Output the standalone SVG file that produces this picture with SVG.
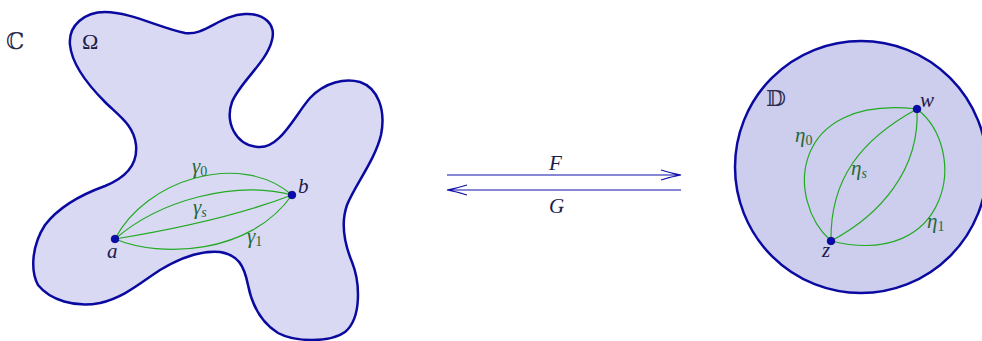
<svg xmlns="http://www.w3.org/2000/svg" width="982" height="341" viewBox="0 0 982 341">
<style>
.region{stroke:#0a0aa0;stroke-width:2.5;}
.curve{fill:none;stroke:#22aa22;stroke-width:1.2;}
.arrow{fill:none;stroke:#1010aa;stroke-width:1.2;}
.dot{fill:#0a0ab0;stroke:#000080;stroke-width:0.8;}
.lbl{font-family:"Liberation Serif","DejaVu Serif",serif;font-style:italic;font-size:21px;fill:#1c1c4a;}
.glbl{font-family:"Liberation Serif","DejaVu Serif",serif;font-style:italic;font-size:21px;fill:#1f6a3a;}
.sub{font-style:normal;font-size:14px;}
.subi{font-size:14px;}
.bb{font-family:"DejaVu Serif","DejaVu Sans",serif;font-size:23px;fill:#2a2a4a;}
</style>
<g id="omega">
<path class="region" fill="#d9d9f3" d="M70,45 C68,25 85,12 105,12 C130,12 160,28 185,33 C205,36 220,15 245,14 C265,13 276,25 272,40 C267,62 240,82 232,102 C225,122 235,145 258,147 C280,149 295,115 310,98 C325,82 345,78 360,82 C378,88 386,110 381,135 C375,160 355,185 347,205 C340,225 345,245 352,262 C360,282 362,318 345,332 C330,343 295,342 278,333 C260,322 252,305 248,285 C244,265 238,255 220,252 C200,250 180,258 160,270 C140,283 125,297 100,303 C75,308 50,300 38,285 C30,270 32,245 45,225 C58,208 80,195 105,186 C125,178 138,165 136,145 C134,125 118,115 105,102 C88,85 72,65 70,45 Z"/>
<text class="lbl" x="82" y="49" style="font-style:normal;font-size:22px">Ω</text>
</g>
<g id="plane-label"><text class="bb" x="6" y="49">ℂ</text></g>
<g id="disc">
<circle class="region" fill="#cdcdee" cx="861" cy="167" r="126"/>
<text class="bb" x="766" y="106">𝔻</text>
</g>
<g id="connectors">
<path class="curve" d="M115,239 C145,180 240,150 292,195"/>
<path class="curve" d="M115,239 C160,200 235,180 292,195"/>
<path class="curve" d="M115,239 C170,230 240,215 292,195"/>
<path class="curve" d="M115,239 C160,258 250,255 292,195"/>
<path class="curve" d="M831,241 C785,200 790,95 917,109"/>
<path class="curve" d="M917,109 C970,150 950,270 831,241"/>
<path class="curve" d="M831,241 C830,180 860,140 917,109"/>
<path class="curve" d="M831,241 C880,215 920,170 917,109"/>
<path class="arrow" d="M447,175 H681 M661,170 Q672,173.5 681,175 Q672,176.5 661,180"/>
<path class="arrow" d="M681,190 H447 M467,185 Q456,188.5 447,190 Q456,191.5 467,195"/>
</g>
<g id="labels">
<text class="glbl" x="192" y="173">γ<tspan class="sub" dy="3">0</tspan></text>
<text class="glbl" x="193" y="214">γ<tspan class="subi" dy="3">s</tspan></text>
<text class="glbl" x="247" y="243">γ<tspan class="sub" dy="3">1</tspan></text>
<text class="glbl" x="795" y="142">η<tspan class="sub" dy="3">0</tspan></text>
<text class="glbl" x="851" y="175">η<tspan class="subi" dy="3">s</tspan></text>
<text class="glbl" x="927" y="228">η<tspan class="sub" dy="3">1</tspan></text>
<text class="lbl" x="549" y="170">F</text>
<text class="lbl" x="549" y="213">G</text>
</g>
<g id="point-a"><circle class="dot" cx="115" cy="239" r="3.8"/><text class="lbl" x="107" y="258">a</text></g>
<g id="point-b"><circle class="dot" cx="292" cy="195" r="3.8"/><text class="lbl" x="298" y="193">b</text></g>
<g id="point-z"><circle class="dot" cx="831" cy="241" r="3.8"/><text class="lbl" x="822" y="257">z</text></g>
<g id="point-w"><circle class="dot" cx="917" cy="109" r="3.8"/><text class="lbl" x="920" y="107">w</text></g>
</svg>
